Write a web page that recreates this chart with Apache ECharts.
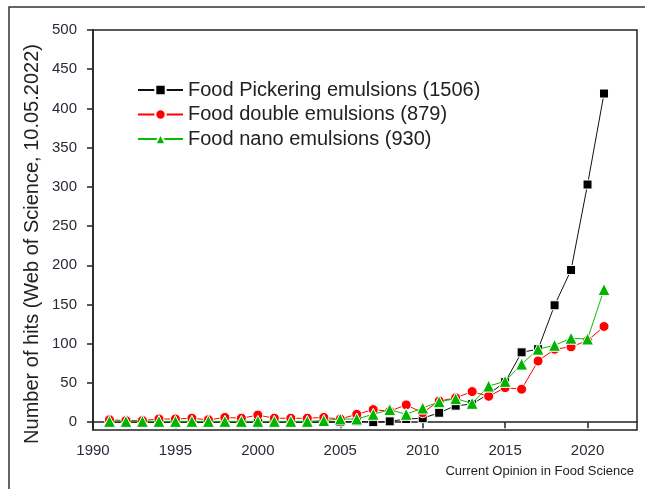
<!DOCTYPE html>
<html>
<head>
<meta charset="utf-8">
<script src="https://cdn.jsdelivr.net/npm/echarts@6/dist/echarts.min.js"></script>
<style>html,body{margin:0;padding:0;background:#fff}#c{width:645px;height:489px}</style>
</head>
<body>
<div id="c"></div>
<script>
var years = [1991,1992,1993,1994,1995,1996,1997,1998,1999,2000,2001,2002,2003,2004,2005,2006,2007,2008,2009,2010,2011,2012,2013,2014,2015,2016,2017,2018,2019,2020,2021];
var pickering = [0,0,0,0,0,0,0,0,0,0,0,0,0,0,0,1,0,1,4,5,12,21,23,36,51,89,93,149,194,303,419];
var doubleEm = [3,2,2,4,4,5,3,6,5,9,5,5,5,6,4,10,16,14,22,12,27,31,39,33,44,42,78,93,96,104,122];
var nano = [1,1,1,1,1,1,1,1,1,1,1,1,1,2,4,4,10,16,10,18,26,30,24,46,52,74,93,98,107,106,169];
var seriesNames = ['Food Pickering emulsions (1506)','Food double emulsions (879)','Food nano emulsions (930)'];
var xTicks = [1990,1995,2000,2005,2010,2015,2020];
var yTicks = [0,50,100,150,200,250,300,350,400,450,500];

function pairs(arr){ return years.map(function(y,i){ return [y, arr[i]]; }); }

var chart = echarts.init(document.getElementById('c'));
var FONT = '"Liberation Sans", Arial, sans-serif';
chart.setOption({
  animation: false,
  backgroundColor: '#fff',
  grid: { left: 93, right: 8, top: 30, bottom: 59, show: true, borderColor: '#222', borderWidth: 1.5, containLabel: false },
  legend: {
    orient: 'vertical', left: 132, top: 75,
    itemWidth: 45, itemHeight: 13, itemGap: 4.5,
    textStyle: { fontFamily: FONT, fontSize: 20, color: '#222', lineHeight: 20 },
    data: seriesNames
  },
  xAxis: {
    type: 'value', min: 1990, max: 2023,
    axisLine: { show: true, lineStyle: { color: '#222', width: 1.5 } },
    axisTick: { show: true, inside: false, length: 6, customValues: xTicks, lineStyle: { color: '#222', width: 1.5 } },
    axisLabel: { customValues: xTicks, margin: 13, fontFamily: FONT, fontSize: 15, color: '#2a2a38', formatter: function(v){ return String(v); } },
    splitLine: { show: false }
  },
  yAxis: {
    type: 'value', min: -10, max: 500,
    axisLine: { show: true, lineStyle: { color: '#222', width: 1.5 } },
    axisTick: { show: true, inside: false, length: 6, customValues: yTicks, lineStyle: { color: '#222', width: 1.5 } },
    axisLabel: { customValues: yTicks, margin: 16, fontFamily: FONT, fontSize: 15, color: '#2a2a38', formatter: function(v){ return String(v); } },
    splitLine: { show: false }
  },
  graphic: [
    { type: 'rect', shape: { x: 9, y: 7, width: 700, height: 600 }, style: { fill: 'none', stroke: '#333', lineWidth: 1.5 }, silent: true },
    { type: 'text', x: 32, y: 244, rotation: Math.PI / 2,
      style: { text: 'Number of hits (Web of Science, 10.05.2022)', fontFamily: FONT, fontSize: 20, fill: '#222', textAlign: 'center', textVerticalAlign: 'middle' } },
    { type: 'text', right: 11, top: 465,
      style: { text: 'Current Opinion in Food Science', fontFamily: FONT, fontSize: 13, fill: '#222' } }
  ],
  series: [
    { name: seriesNames[0], type: 'line', data: pairs(pickering), symbol: 'rect', symbolSize: 9,
      lineStyle: { color: '#111', width: 1 }, itemStyle: { color: '#000', borderColor: '#fff', borderWidth: 1 }, z: 2 },
    { name: seriesNames[1], type: 'line', data: pairs(doubleEm), symbol: 'circle', symbolSize: 10,
      lineStyle: { color: '#ff0000', width: 1 }, itemStyle: { color: '#ff0000', borderColor: '#fff', borderWidth: 1 }, z: 3 },
    { name: seriesNames[2], type: 'line', data: pairs(nano), symbol: 'triangle', symbolSize: 12,
      lineStyle: { color: '#00c000', width: 1 }, itemStyle: { color: '#00b400', borderColor: '#fff', borderWidth: 1 }, z: 4 }
  ]
});
</script>
</body>
</html>
